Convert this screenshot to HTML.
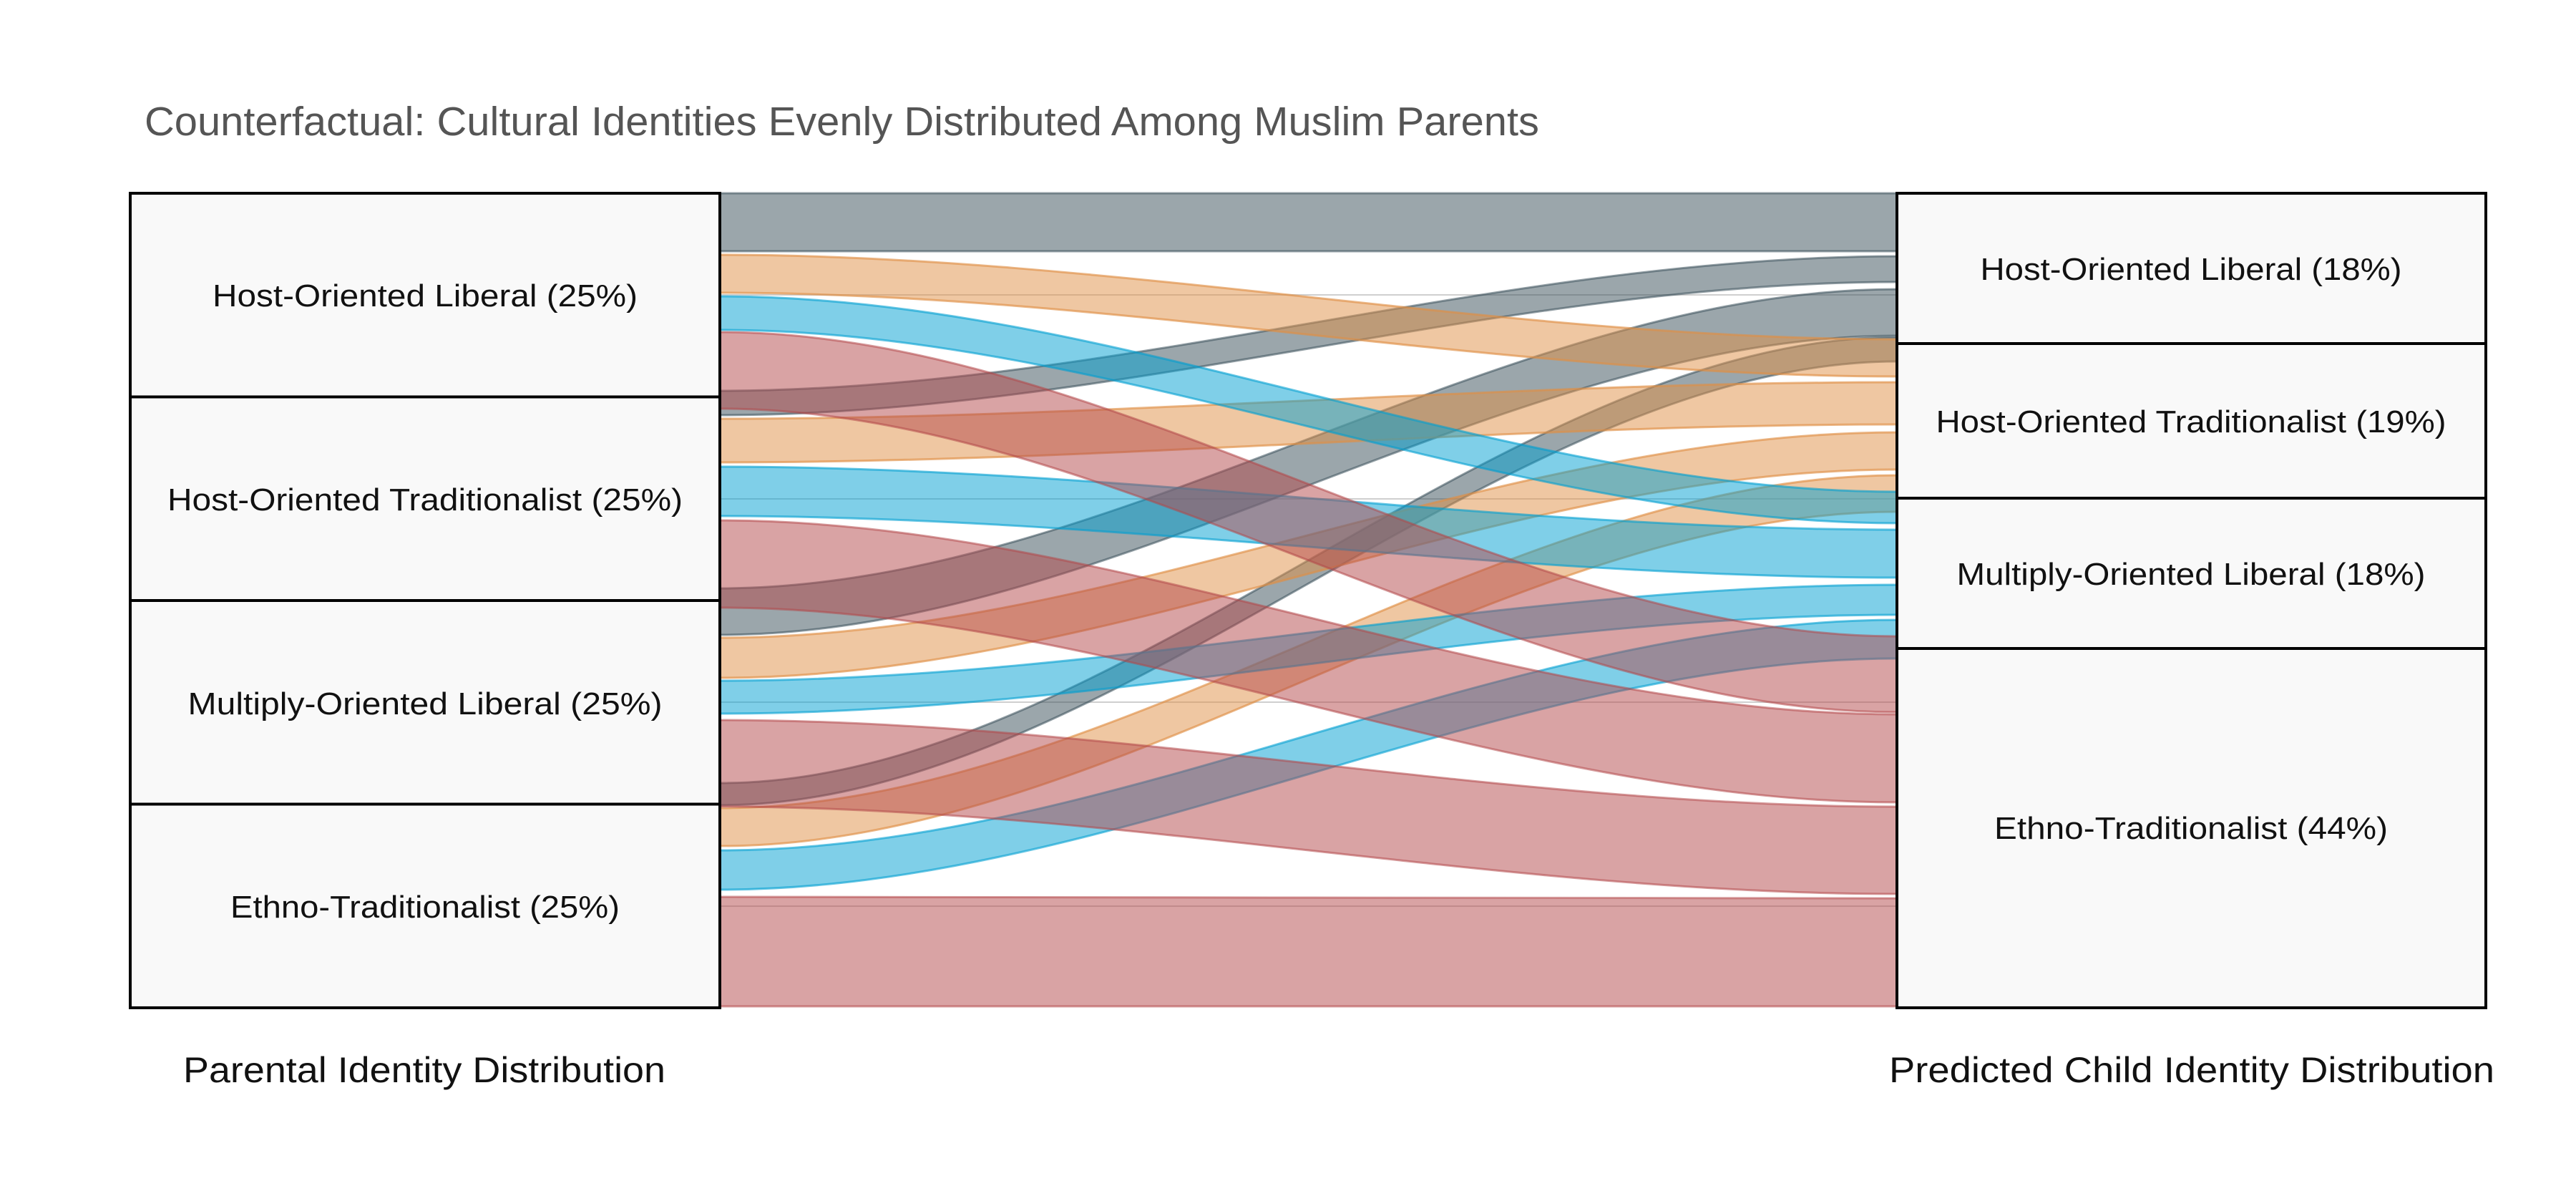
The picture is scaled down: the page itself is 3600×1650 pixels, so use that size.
<!DOCTYPE html>
<html>
<head>
<meta charset="utf-8">
<style>
  html, body { margin: 0; padding: 0; background: #ffffff; }
  body { width: 3600px; height: 1650px; overflow: hidden; }
  svg { display: block; }
  text { font-family: "Liberation Sans", "DejaVu Sans", sans-serif; }
</style>
</head>
<body>
<svg width="3600" height="1650" viewBox="0 0 3600 1650" xmlns="http://www.w3.org/2000/svg">
  <rect x="0" y="0" width="3600" height="1650" fill="#ffffff"/>

  <!-- Title -->
  <text x="202" y="189" font-size="57" fill="#555555" textLength="1949" lengthAdjust="spacingAndGlyphs">Counterfactual: Cultural Identities Evenly Distributed Among Muslim Parents</text>

  <!-- faint guide lines at source centers -->
  <g stroke="#cfcfcf" stroke-width="2">
    <line x1="1006" y1="412" x2="2652" y2="412"/>
    <line x1="1006" y1="697" x2="2652" y2="697"/>
    <line x1="1006" y1="981" x2="2652" y2="981"/>
    <line x1="1006" y1="1266" x2="2652" y2="1266"/>
  </g>

  <!-- Flows: gray (to Host-Oriented Liberal) -->
  <g fill="rgb(55,77,87)" fill-opacity="0.5">
    <path d="M1006,270 C1555,270 2103,270 2652,270 L2652,351 C2103,351 1555,351 1006,351 Z"/>
    <path d="M1006,546 C1555,546 2103,358 2652,358 L2652,394 C2103,394 1555,580 1006,580 Z"/>
    <path d="M1006,822 C1555,822 2103,404 2652,404 L2652,469 C2103,469 1555,887 1006,887 Z"/>
    <path d="M1006,1094 C1555,1094 2103,471 2652,471 L2652,505 C2103,505 1555,1125 1006,1125 Z"/>
  </g>
  <g fill="none" stroke="rgb(55,77,87)" stroke-opacity="0.55" stroke-width="3">
    <path d="M1006,270 C1555,270 2103,270 2652,270"/>
    <path d="M1006,351 C1555,351 2103,351 2652,351"/>
    <path d="M1006,546 C1555,546 2103,358 2652,358"/>
    <path d="M1006,580 C1555,580 2103,394 2652,394"/>
    <path d="M1006,822 C1555,822 2103,404 2652,404"/>
    <path d="M1006,887 C1555,887 2103,469 2652,469"/>
    <path d="M1006,1094 C1555,1094 2103,471 2652,471"/>
    <path d="M1006,1125 C1555,1125 2103,505 2652,505"/>
  </g>

  <!-- Flows: orange (to Host-Oriented Traditionalist) -->
  <g fill="rgb(223,143,69)" fill-opacity="0.5">
    <path d="M1006,356 C1555,356 2103,474 2652,474 L2652,526 C2103,526 1555,409 1006,409 Z"/>
    <path d="M1006,585 C1555,585 2103,534 2652,534 L2652,593 C2103,593 1555,646 1006,646 Z"/>
    <path d="M1006,891 C1555,891 2103,604 2652,604 L2652,656 C2103,656 1555,947 1006,947 Z"/>
    <path d="M1006,1129 C1555,1129 2103,664 2652,664 L2652,715 C2103,715 1555,1182 1006,1182 Z"/>
  </g>
  <g fill="none" stroke="rgb(223,143,69)" stroke-opacity="0.65" stroke-width="3">
    <path d="M1006,356 C1555,356 2103,474 2652,474"/>
    <path d="M1006,409 C1555,409 2103,526 2652,526"/>
    <path d="M1006,585 C1555,585 2103,534 2652,534"/>
    <path d="M1006,646 C1555,646 2103,593 2652,593"/>
    <path d="M1006,891 C1555,891 2103,604 2652,604"/>
    <path d="M1006,947 C1555,947 2103,656 2652,656"/>
    <path d="M1006,1129 C1555,1129 2103,664 2652,664"/>
    <path d="M1006,1182 C1555,1182 2103,715 2652,715"/>
  </g>

  <!-- Flows: blue (to Multiply-Oriented Liberal) -->
  <g fill="rgb(0,159,209)" fill-opacity="0.5">
    <path d="M1006,414 C1555,414 2103,687 2652,687 L2652,731 C2103,731 1555,461 1006,461 Z"/>
    <path d="M1006,652 C1555,652 2103,740 2652,740 L2652,807 C2103,807 1555,721 1006,721 Z"/>
    <path d="M1006,951 C1555,951 2103,817 2652,817 L2652,859 C2103,859 1555,997 1006,997 Z"/>
    <path d="M1006,1188 C1555,1188 2103,866 2652,866 L2652,920 C2103,920 1555,1243 1006,1243 Z"/>
  </g>
  <g fill="none" stroke="rgb(0,159,209)" stroke-opacity="0.6" stroke-width="3">
    <path d="M1006,414 C1555,414 2103,687 2652,687"/>
    <path d="M1006,461 C1555,461 2103,731 2652,731"/>
    <path d="M1006,652 C1555,652 2103,740 2652,740"/>
    <path d="M1006,721 C1555,721 2103,807 2652,807"/>
    <path d="M1006,951 C1555,951 2103,817 2652,817"/>
    <path d="M1006,997 C1555,997 2103,859 2652,859"/>
    <path d="M1006,1188 C1555,1188 2103,866 2652,866"/>
    <path d="M1006,1243 C1555,1243 2103,920 2652,920"/>
  </g>

  <!-- Flows: red (to Ethno-Traditionalist) -->
  <g fill="rgb(179,71,73)" fill-opacity="0.5">
    <path d="M1006,464 C1555,464 2103,889 2652,889 L2652,995 C2103,995 1555,571 1006,571 Z"/>
    <path d="M1006,727 C1555,727 2103,998 2652,998 L2652,1121 C2103,1121 1555,849 1006,849 Z"/>
    <path d="M1006,1006 C1555,1006 2103,1127 2652,1127 L2652,1249 C2103,1249 1555,1127 1006,1127 Z"/>
    <path d="M1006,1253 C1555,1253 2103,1255 2652,1255 L2652,1406 C2103,1406 1555,1406 1006,1406 Z"/>
  </g>
  <g fill="none" stroke="rgb(179,71,73)" stroke-opacity="0.55" stroke-width="3">
    <path d="M1006,464 C1555,464 2103,889 2652,889"/>
    <path d="M1006,571 C1555,571 2103,995 2652,995"/>
    <path d="M1006,727 C1555,727 2103,998 2652,998"/>
    <path d="M1006,849 C1555,849 2103,1121 2652,1121"/>
    <path d="M1006,1006 C1555,1006 2103,1127 2652,1127"/>
    <path d="M1006,1127 C1555,1127 2103,1249 2652,1249"/>
    <path d="M1006,1253 C1555,1253 2103,1255 2652,1255"/>
    <path d="M1006,1406 C1555,1406 2103,1406 2652,1406"/>
  </g>

  <!-- Left boxes -->
  <g fill="#f9f9f9" stroke="#000000" stroke-width="4">
    <rect x="182" y="270" width="824" height="284.5"/>
    <rect x="182" y="554.5" width="824" height="284.5"/>
    <rect x="182" y="839" width="824" height="284.5"/>
    <rect x="182" y="1123.5" width="824" height="284.5"/>
  </g>
  <!-- Right boxes -->
  <g fill="#f9f9f9" stroke="#000000" stroke-width="4">
    <rect x="2651" y="270" width="823" height="210"/>
    <rect x="2651" y="480" width="823" height="216"/>
    <rect x="2651" y="696" width="823" height="210"/>
    <rect x="2651" y="906" width="823" height="502"/>
  </g>

  <!-- Left labels -->
  <g font-size="44" fill="#111111" text-anchor="middle">
    <text x="594" y="428" textLength="594" lengthAdjust="spacingAndGlyphs">Host-Oriented Liberal (25%)</text>
    <text x="594" y="713" textLength="720" lengthAdjust="spacingAndGlyphs">Host-Oriented Traditionalist (25%)</text>
    <text x="594" y="998" textLength="663" lengthAdjust="spacingAndGlyphs">Multiply-Oriented Liberal (25%)</text>
    <text x="594" y="1282" textLength="544" lengthAdjust="spacingAndGlyphs">Ethno-Traditionalist (25%)</text>
  </g>
  <!-- Right labels -->
  <g font-size="44" fill="#111111" text-anchor="middle">
    <text x="3062" y="391" textLength="589" lengthAdjust="spacingAndGlyphs">Host-Oriented Liberal (18%)</text>
    <text x="3062" y="604" textLength="713" lengthAdjust="spacingAndGlyphs">Host-Oriented Traditionalist (19%)</text>
    <text x="3062" y="817" textLength="655" lengthAdjust="spacingAndGlyphs">Multiply-Oriented Liberal (18%)</text>
    <text x="3062" y="1172" textLength="550" lengthAdjust="spacingAndGlyphs">Ethno-Traditionalist (44%)</text>
  </g>

  <!-- Bottom axis labels -->
  <g font-size="50" fill="#111111" text-anchor="middle">
    <text x="593" y="1512" textLength="674" lengthAdjust="spacingAndGlyphs">Parental Identity Distribution</text>
    <text x="3063" y="1512" textLength="846" lengthAdjust="spacingAndGlyphs">Predicted Child Identity Distribution</text>
  </g>
</svg>
</body>
</html>
